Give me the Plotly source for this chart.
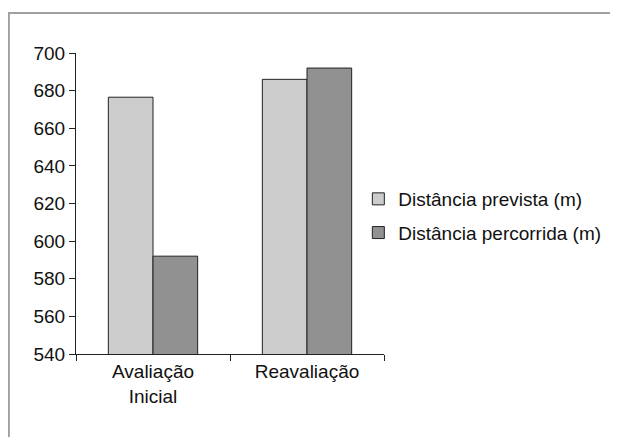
import plotly.graph_objects as go

categories = ["Avaliação<br>Inicial", "Reavaliação"]
prevista = [676.5, 686]
percorrida = [592, 692]
series_names = ["Distância prevista (m)", "Distância percorrida (m)"]
y_ticks = [540, 560, 580, 600, 620, 640, 660, 680, 700]

FONT = "Liberation Sans, Arial, sans-serif"

fig = go.Figure()
fig.add_trace(go.Bar(x=categories, y=prevista, name=series_names[0],
                     marker=dict(color="#cccccc", line=dict(color="#222222", width=1)),
                     legendgroup="a"))
fig.add_trace(go.Bar(x=categories, y=percorrida, name=series_names[1],
                     marker=dict(color="#919191", line=dict(color="#222222", width=1)),
                     legendgroup="b"))

# page has an 8px body offset
OFF = 8
W, H = 618 - OFF, 437 - OFF
l, r, t, b = 76 - OFF, 230, 53 - OFF, 83
pw, ph = W - l - r, H - t - b
pbot = OFF + H - b

fig.update_layout(
    width=W, height=H,
    margin=dict(l=l, r=r, t=t, b=b),
    paper_bgcolor="white", plot_bgcolor="white",
    font=dict(family=FONT, size=19, color="#111111"),
    barmode="group", bargap=0.42, bargroupgap=0,
    showlegend=True,
    legend=dict(x=(362 - 76) / pw, xanchor="left", y=(pbot - 216) / ph, yanchor="middle",
                font=dict(size=19), tracegroupgap=6, bgcolor="rgba(0,0,0,0)",
                itemwidth=30),
    xaxis=dict(showline=True, linecolor="#222222", linewidth=1, ticks="outside",
               tickson="boundaries", ticklen=6, tickcolor="#222222",
               showgrid=False, tickfont=dict(size=19)),
    yaxis=dict(range=[540, 700], tickvals=y_ticks, showline=True, linecolor="#222222",
               linewidth=1, ticks="outside", ticklen=6, tickcolor="#222222",
               showgrid=False, zeroline=False, tickfont=dict(size=19)),
    shapes=[dict(type="rect", xref="paper", yref="paper",
                 x0=(8 - 76) / pw, x1=(630 - 76) / pw,
                 y0=-(450 - pbot) / ph, y1=1 + (53 - 13) / ph,
                 line=dict(color="#a0a0a0", width=2), fillcolor="rgba(0,0,0,0)", layer="below")],
)

fig.write_html("out.html")
